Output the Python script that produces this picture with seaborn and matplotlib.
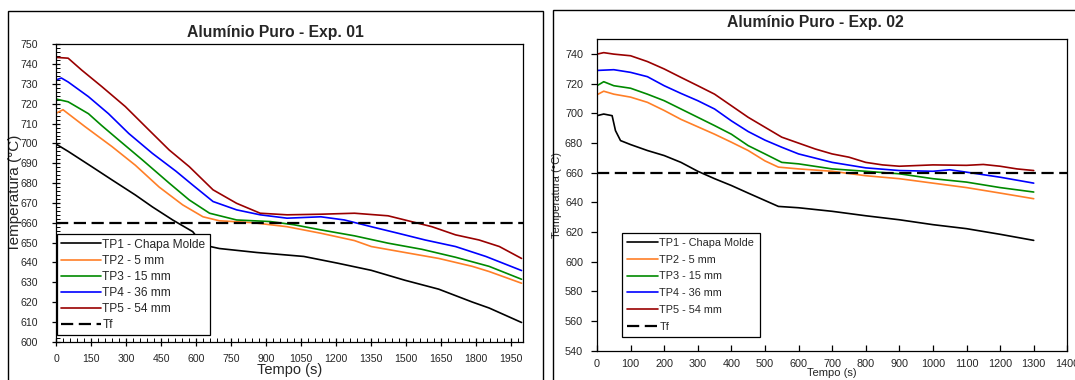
import numpy as np
import pandas as pd
import matplotlib
matplotlib.use("Agg")
import matplotlib.pyplot as plt
from matplotlib.patches import Rectangle
from matplotlib.ticker import MultipleLocator
import seaborn as sns

# ---------------- data: Exp. 01 ----------------
e1_tp1_t = [0, 52, 153, 240, 340, 413, 500, 586, 630, 700, 860, 1062, 1207, 1351, 1495, 1640, 1784, 1856, 1995]
e1_tp1_v = [699.7, 696, 688.3, 681.6, 674, 668, 661.4, 655.5, 648.8, 647, 645, 643, 639.6, 636, 631, 626.5, 620, 617, 609.7]
e1_tp2_t = [0, 30, 124, 240, 340, 442, 543, 630, 700, 846, 990, 1135, 1279, 1351, 1495, 1640, 1784, 1856, 1995]
e1_tp2_v = [715.2, 717, 708.5, 698.4, 689, 678, 669, 663, 661, 660, 658, 654.7, 651, 648, 645, 642, 638, 635.4, 629.5]
e1_tp3_t = [0, 52, 139, 196, 268, 370, 485, 571, 658, 774, 918, 1019, 1135, 1279, 1423, 1568, 1712, 1856, 1995]
e1_tp3_v = [722.4, 721, 715, 709, 701.8, 691.7, 680, 671.5, 664.8, 661.4, 660.6, 659, 656.4, 653.4, 649.7, 646.6, 642.6, 638, 631.5]
e1_tp4_t = [0, 23, 52, 139, 225, 312, 413, 514, 586, 673, 774, 875, 990, 1135, 1236, 1351, 1466, 1582, 1712, 1842, 1995]
e1_tp4_v = [732, 733, 731, 723.6, 715, 705, 695, 686, 679, 670.7, 666.5, 664, 662.3, 663, 661.4, 658, 654.7, 651.3, 648, 643, 635.9]
e1_tp5_t = [0, 52, 110, 196, 297, 398, 485, 571, 673, 774, 875, 990, 1135, 1279, 1423, 1495, 1611, 1712, 1813, 1900, 1995]
e1_tp5_v = [743.4, 743, 737, 728.7, 718.6, 706.8, 696.7, 688.3, 676.6, 669.8, 664.8, 664, 664.3, 664.8, 663.5, 661.4, 658, 653.9, 651.3, 648, 642]

# ---------------- data: Exp. 02 ----------------
e2_tp1_t = [0, 20, 45, 55, 70, 100, 150, 200, 250, 300, 350, 400, 450, 500, 540, 600, 700, 800, 900, 1000, 1100, 1200, 1300]
e2_tp1_v = [698.5, 699.6, 698.5, 688.4, 681.7, 679, 675, 671.6, 667, 661, 656, 651.4, 646.3, 641.3, 637.3, 636.4, 634, 631, 628.3, 625, 622.3, 618.5, 614.4]
e2_tp2_t = [0, 20, 50, 100, 150, 200, 250, 300, 350, 400, 450, 500, 540, 600, 700, 800, 900, 1000, 1100, 1200, 1300]
e2_tp2_v = [712.6, 715, 713, 711, 707.5, 702, 696, 691, 686, 680.6, 675, 668, 663.8, 662.6, 661, 658, 656, 653, 650, 646.3, 642.5]
e2_tp3_t = [0, 20, 50, 100, 150, 200, 250, 300, 350, 400, 450, 500, 550, 600, 700, 800, 900, 1000, 1100, 1200, 1300]
e2_tp3_v = [718.7, 721.4, 718.7, 717, 713, 708.6, 703, 697.4, 691.8, 686, 678.3, 672.7, 667, 666, 662.6, 661, 659.3, 656, 653.7, 650, 647]
e2_tp4_t = [0, 50, 100, 150, 200, 250, 300, 350, 400, 450, 500, 550, 600, 700, 800, 900, 1000, 1050, 1100, 1200, 1300]
e2_tp4_v = [729, 729.5, 727.7, 724.8, 718.7, 713.5, 708.6, 703, 695, 687.8, 682, 677.2, 672.7, 667, 663.3, 661.5, 661, 662, 660.4, 657, 653]
e2_tp5_t = [0, 20, 50, 100, 150, 200, 250, 300, 350, 400, 450, 500, 550, 600, 650, 700, 750, 800, 850, 900, 1000, 1100, 1150, 1200, 1250, 1300]
e2_tp5_v = [740, 741, 740, 738.9, 735, 730, 724.3, 718.7, 713, 705.2, 697.4, 690.7, 684, 680, 676, 672.7, 670.5, 667, 665.3, 664.4, 665.3, 665, 665.6, 664.4, 662.6, 661.5]

series_names = ["TP1 - Chapa Molde", "TP2 - 5 mm", "TP3 - 15 mm", "TP4 - 36 mm", "TP5 - 54 mm"]
series_colors = ["#000000", "#FF7F27", "#008A00", "#0000FF", "#990000"]
tf_value = 660
tf_label = "Tf"

titles = ["Alumínio Puro - Exp. 01", "Alumínio Puro - Exp. 02"]
xlabel = "Tempo (s)"
ylabel = "Temperatura (°C)"

e1 = [(e1_tp1_t, e1_tp1_v), (e1_tp2_t, e1_tp2_v), (e1_tp3_t, e1_tp3_v), (e1_tp4_t, e1_tp4_v), (e1_tp5_t, e1_tp5_v)]
e2 = [(e2_tp1_t, e2_tp1_v), (e2_tp2_t, e2_tp2_v), (e2_tp3_t, e2_tp3_v), (e2_tp4_t, e2_tp4_v), (e2_tp5_t, e2_tp5_v)]

sns.set_style("white")
plt.rcParams["font.family"] = ["Liberation Sans", "DejaVu Sans"]
plt.rcParams["axes.linewidth"] = 0.9

W, H = 1075, 380
fig = plt.figure(figsize=(W / 100, H / 100), dpi=100)


def fx(p):
    return p / W


def fy(p):
    return 1 - p / H


# outer chart frames
fig.patches.append(Rectangle((fx(7.6), -0.05), fx(543 - 7.6), fy(11) + 0.05, transform=fig.transFigure,
                             fill=False, edgecolor="black", lw=1.0))
fig.patches.append(Rectangle((fx(553), -0.05), fx(540), fy(10) + 0.05, transform=fig.transFigure,
                             fill=False, edgecolor="black", lw=1.0))

ax1 = fig.add_axes([fx(56), fy(341.7), fx(522.7 - 56), (341.7 - 44.3) / H])
ax2 = fig.add_axes([fx(597), fy(350.7), fx(1067.3 - 597), (350.7 - 39.3) / H])


def draw(ax, data):
    for (t, v), name, col in zip(data, series_names, series_colors):
        df = pd.DataFrame({"t": t, "v": v})
        sns.lineplot(data=df, x="t", y="v", ax=ax, color=col, lw=1.2, label=name,
                     estimator=None, sort=False)
    ax.axhline(tf_value, color="black", lw=1.6, dashes=(5.5, 2.5), label=tf_label)
    for s in ax.spines.values():
        s.set_color("black")
        s.set_linewidth(0.9)


draw(ax1, e1)
draw(ax2, e2)

# ---- left axes ----
ax1.set_xlim(0, 2000)
ax1.set_ylim(600, 750)
ax1.set_xticks(np.arange(0, 2000, 150))
ax1.set_yticks(np.arange(600, 751, 10))
ax1.xaxis.set_minor_locator(MultipleLocator(30))
ax1.yaxis.set_minor_locator(MultipleLocator(2))
ax1.tick_params(which="major", direction="inout", length=6, width=0.9, labelsize=7.6, color="black")
ax1.tick_params(which="minor", direction="in", length=3, width=0.7, color="black")
ax1.tick_params(axis="y", which="major", pad=10)
ax1.tick_params(axis="x", which="major", pad=6)
ax1.tick_params(left=True, bottom=True, which="both")
ax1.set_xlabel(xlabel, fontsize=10.5, labelpad=0)
ax1.set_ylabel(ylabel, fontsize=11, labelpad=1)
ax1.xaxis.set_label_coords(0.5, -0.073)
ax1.yaxis.set_label_coords(-0.072, 0.5)
fig.text(fx(275), fy(33), titles[0], ha="center", va="center", fontsize=11.3, fontweight="bold")

leg1 = ax1.legend(loc="lower left", bbox_to_anchor=(0.002, 0.022), borderaxespad=0, fontsize=8.6,
                  handlelength=3.3, handletextpad=0.15, labelspacing=0.34, borderpad=0.35,
                  fancybox=False, framealpha=1, edgecolor="black")
leg1.get_frame().set_linewidth(0.9)

# ---- right axes ----
ax2.set_xlim(0, 1400)
ax2.set_ylim(540, 750)
ax2.set_xticks(np.arange(0, 1401, 100))
ax2.set_yticks(np.arange(540, 741, 20))
ax2.tick_params(axis="x", direction="in", length=4, width=0.9, labelsize=7.8, color="black", pad=6)
ax2.tick_params(axis="y", direction="out", length=4, width=0.9, labelsize=7.8, color="black", pad=6)
ax2.tick_params(left=True, bottom=True)
ax2.set_xlabel(xlabel, fontsize=8, labelpad=0)
ax2.set_ylabel(ylabel, fontsize=8, labelpad=0)
ax2.xaxis.set_label_coords(0.5, -0.057)
ax2.yaxis.set_label_coords(-0.074, 0.5)
fig.text(fx(815), fy(23), titles[1], ha="center", va="center", fontsize=11.3, fontweight="bold")

leg2 = ax2.legend(loc="lower left", bbox_to_anchor=(0.053, 0.044), borderaxespad=0, fontsize=7.8,
                  handlelength=2.8, handletextpad=0.15, labelspacing=0.62, borderpad=0.5,
                  fancybox=False, framealpha=1, edgecolor="black")
leg2.get_frame().set_linewidth(0.9)

fig.savefig("out.png", dpi=100)
